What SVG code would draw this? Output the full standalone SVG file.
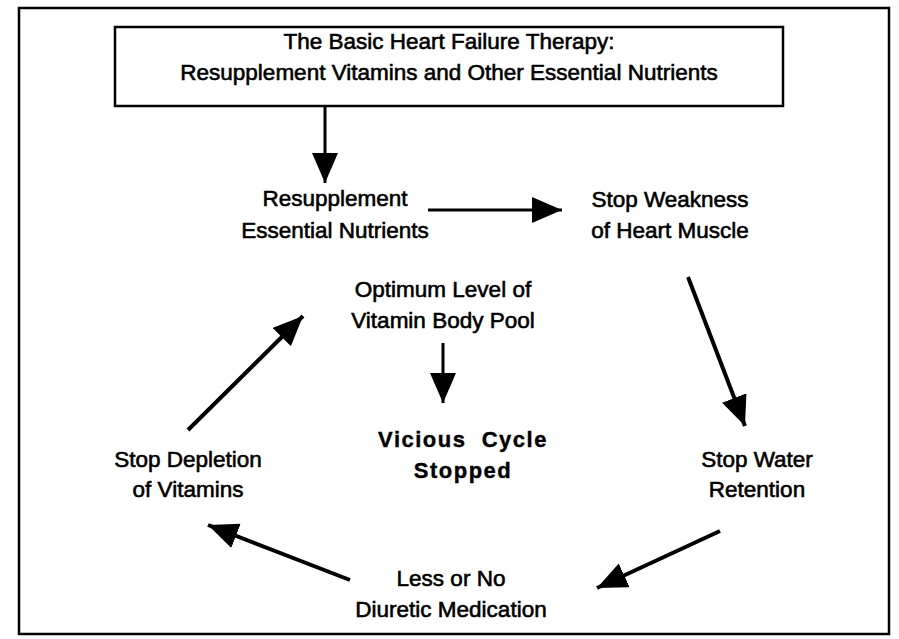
<svg xmlns="http://www.w3.org/2000/svg" width="899" height="639" viewBox="0 0 899 639">
<style>
.t{font-family:"Liberation Sans",Arial,sans-serif;font-size:22.5px;fill:#000;stroke:#000;stroke-width:0.6;text-anchor:middle}
.b{font-family:"Liberation Sans",Arial,sans-serif;font-size:22px;font-weight:bold;fill:#000;stroke:#000;stroke-width:0.4;letter-spacing:1.5px;text-anchor:middle}
.c{stroke:#000;stroke-width:4;fill:none}
.frame{fill:none;stroke:#000;stroke-width:2.5}
</style>
<defs>
<marker id="ah" markerUnits="userSpaceOnUse" markerWidth="32" markerHeight="28" refX="30" refY="13" orient="auto">
<path d="M0,0 L30,13 L0,26 z" fill="#000"/>
</marker>
</defs>
<rect width="899" height="639" fill="#fff"/>
<rect class="frame" x="19" y="8" width="870" height="626"/>
<g id="title">
<rect class="frame" x="115" y="27" width="668" height="79"/>
<text class="t" x="449" y="49">The Basic Heart Failure Therapy:</text>
<text class="t" x="449" y="80">Resupplement Vitamins and Other Essential Nutrients</text>
</g>
<g id="resupplement">
<text class="t" x="335" y="206">Resupplement</text>
<text class="t" x="335" y="238">Essential Nutrients</text>
</g>
<g id="weakness">
<text class="t" x="670" y="207">Stop Weakness</text>
<text class="t" x="670" y="238">of Heart Muscle</text>
</g>
<g id="water">
<text class="t" x="757" y="467">Stop Water</text>
<text class="t" x="757" y="497">Retention</text>
</g>
<g id="diuretic">
<text class="t" x="451" y="586">Less or No</text>
<text class="t" x="451" y="617">Diuretic Medication</text>
</g>
<g id="depletion">
<text class="t" x="188" y="467">Stop Depletion</text>
<text class="t" x="188" y="497">of Vitamins</text>
</g>
<g id="optimum">
<text class="t" x="443" y="297">Optimum Level of</text>
<text class="t" x="443" y="328">Vitamin Body Pool</text>
</g>
<g id="vicious">
<text class="b" x="463" y="447" xml:space="preserve">Vicious  Cycle</text>
<text class="b" x="463" y="478">Stopped</text>
</g>
<g id="connectors">
<line class="c" x1="325" y1="106" x2="325" y2="183" marker-end="url(#ah)" style="stroke-width:3"/>
<line class="c" x1="428" y1="210" x2="562" y2="210" marker-end="url(#ah)" style="stroke-width:3"/>
<line class="c" x1="688" y1="277" x2="745" y2="426" marker-end="url(#ah)"/>
<line class="c" x1="720" y1="531" x2="597" y2="588" marker-end="url(#ah)"/>
<line class="c" x1="350" y1="580" x2="208" y2="525" marker-end="url(#ah)"/>
<line class="c" x1="188" y1="430" x2="303" y2="316" marker-end="url(#ah)"/>
<line class="c" x1="443" y1="343" x2="443" y2="403" marker-end="url(#ah)" style="stroke-width:3"/>
</g>
</svg>
